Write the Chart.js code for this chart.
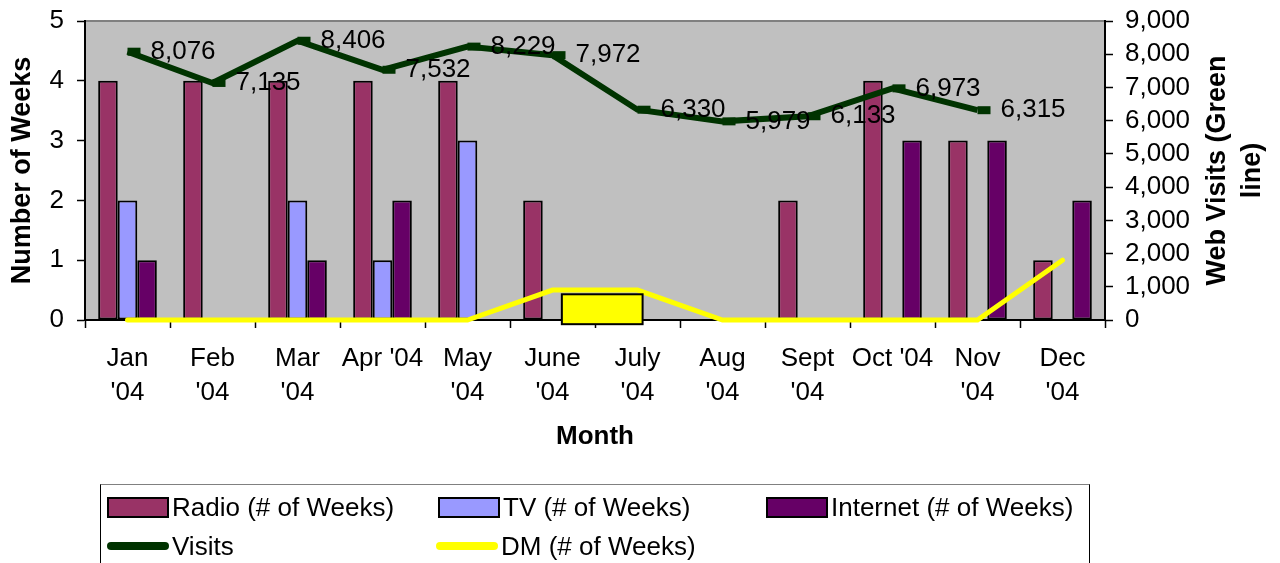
<!DOCTYPE html>
<html>
<head>
<meta charset="utf-8">
<script src="https://cdn.jsdelivr.net/npm/chart.js@4.4.1/dist/chart.umd.min.js"></script>
<style>
  body { margin: 0; background: #fff; overflow: hidden; }
  #wrap { position: relative; width: 1280px; height: 563px; }
  #legend {
    position: absolute; left: 100px; top: 484px; width: 988px; height: 100px;
    border: 1px solid #000; border-top-color: #808080;
    font: 26px "Liberation Sans", Arial, sans-serif; color: #000;
  }
  .item { position: absolute; height: 30px; line-height: 30px; display: flex; align-items: center; white-space: nowrap; }
  .box { width: 58px; height: 17px; border: 2px solid #000; margin-right: 3px; }
  .ln { width: 62px; height: 8px; border-radius: 4px; margin-right: 3px; }
</style>
</head>
<body>
<div id="wrap">
  <canvas id="myChart" width="1280" height="563"></canvas>
  <div id="legend"></div>
</div>
<script>
const months = [['Jan', "'04"], ['Feb', "'04"], ['Mar', "'04"], "Apr '04", ['May', "'04"], ['June', "'04"],
                ['July', "'04"], ['Aug', "'04"], ['Sept', "'04"], "Oct '04", ['Nov', "'04"], ['Dec', "'04"]];
const radio = [4, 4, 4, 4, 4, 2, 0, 0, 2, 4, 3, 1];
const tv = [2, 0, 2, 1, 3, 0, 0, 0, 0, 0, 0, 0];
const internet = [1, 0, 1, 2, 0, 0, 0, 0, 0, 3, 3, 2];
const visits = [8076, 7135, 8406, 7532, 8229, 7972, 6330, 5979, 6133, 6973, 6315, null];
const dm = [0, 0, 0, 0, 0, 1, 1, 0, 0, 0, 0, 2];

// yellow box drawn over June/July (category index, weeks)
const dmBox = { xMin: 5.11, xMax: 6.06, yMin: -0.07, yMax: 0.43 };

const fontFam = "'Liberation Sans', Arial, sans-serif";
Chart.defaults.font.family = fontFam;
Chart.defaults.color = '#000';

const plotBg = {
  id: 'plotBg',
  beforeDraw(chart) {
    const { ctx, chartArea: a } = chart;
    ctx.save();
    ctx.fillStyle = '#c0c0c0';
    ctx.fillRect(a.left, a.top, a.right - a.left, a.bottom - a.top);
    ctx.strokeStyle = '#808080';
    ctx.lineWidth = 2;
    ctx.strokeRect(a.left, a.top, a.right - a.left, a.bottom - a.top);
    ctx.restore();
  }
};

const extras = {
  id: 'extras',
  afterDatasetsDraw(chart) {
    const { ctx, chartArea: a, scales } = chart;
    ctx.save();
    // the box
    const x1 = scales.x.getPixelForValue(dmBox.xMin);
    const x2 = scales.x.getPixelForValue(dmBox.xMax);
    const y1 = scales.y.getPixelForValue(dmBox.yMax);
    const y2 = scales.y.getPixelForValue(dmBox.yMin);
    ctx.fillStyle = '#ffff00';
    ctx.fillRect(x1, y1, x2 - x1, y2 - y1);
    ctx.strokeStyle = '#000';
    ctx.lineWidth = 2;
    ctx.strokeRect(x1, y1, x2 - x1, y2 - y1);

    // visit labels
    const meta = chart.getDatasetMeta(0);
    ctx.fillStyle = '#000';
    ctx.font = '26px ' + fontFam;
    ctx.textAlign = 'left';
    ctx.textBaseline = 'middle';
    meta.data.forEach((pt, i) => {
      if (visits[i] == null) return;
      ctx.fillText(visits[i].toLocaleString('en-US'), pt.x + 23, pt.y);
    });

    // right axis title, reads bottom to top
    ctx.font = 'bold 27px ' + fontFam;
    ctx.textAlign = 'center';
    const cy = (a.top + a.bottom) / 2;
    ctx.translate(a.right + 113, cy);
    ctx.rotate(-Math.PI / 2);
    ctx.fillText('Web Visits (Green', 0, 0);
    ctx.fillText('line)', 0, 35);
    ctx.restore();
  }
};

const tickGrid = { drawOnChartArea: false, drawTicks: true, tickLength: 8, tickColor: '#000', tickWidth: 1.5 };

new Chart(document.getElementById('myChart'), {
  data: {
    labels: months,
    datasets: [
      {
        type: 'line', label: 'Visits', data: visits, yAxisID: 'y1', order: 0,
        borderColor: '#003300', borderWidth: 6, tension: 0,
        pointStyle: 'dash', pointRadius: 13, pointBorderWidth: 8,
        pointBorderColor: '#003300', pointBackgroundColor: '#003300', clip: false
      },
      {
        type: 'line', label: 'DM (# of Weeks)', data: dm, yAxisID: 'y2', order: 1,
        borderColor: '#ffff00', borderWidth: 5, tension: 0, pointRadius: 0,
        borderCapStyle: 'round', clip: false
      },
      {
        type: 'bar', label: 'Radio (# of Weeks)', data: radio, yAxisID: 'y', order: 2,
        backgroundColor: '#993366', borderColor: '#000', borderWidth: 2, borderSkipped: false
      },
      {
        type: 'bar', label: 'TV (# of Weeks)', data: tv, yAxisID: 'y', order: 2,
        backgroundColor: '#9999ff', borderColor: '#000', borderWidth: 2, borderSkipped: false
      },
      {
        type: 'bar', label: 'Internet (# of Weeks)', data: internet, yAxisID: 'y', order: 2,
        backgroundColor: '#660066', borderColor: '#000', borderWidth: 2, borderSkipped: false
      }
    ]
  },
  options: {
    responsive: false,
    animation: false,
    events: [],
    datasets: { bar: { categoryPercentage: 0.69, barPercentage: 1.0 } },
    layout: { padding: { top: 20, bottom: 113, left: 0, right: 0 } },
    plugins: { legend: { display: false }, tooltip: { enabled: false } },
    scales: {
      x: {
        offset: true,
        grid: Object.assign({ offset: true }, tickGrid),
        border: { color: '#000', width: 2 },
        ticks: { font: { size: 26, lineHeight: 1.3 }, padding: 14, maxRotation: 0, autoSkip: false },
        title: { display: true, text: 'Month', font: { size: 26, weight: 'bold', lineHeight: 1 }, padding: 0 },
        afterFit: s => { s.height = 130; s.paddingLeft = 0; s.paddingRight = 0; }
      },
      y: {
        position: 'left', min: 0, max: 5,
        grid: tickGrid,
        border: { color: '#000', width: 2 },
        ticks: { stepSize: 1, font: { size: 26 }, padding: 13, autoSkip: false },
        title: { display: true, text: 'Number of Weeks', font: { size: 27, weight: 'bold' }, padding: { top: 6, bottom: 0 } },
        afterFit: s => { s.width = 85; s.paddingTop = 0; s.paddingBottom = 0; }
      },
      y1: {
        position: 'right', min: 0, max: 9000,
        grid: tickGrid,
        border: { color: '#000', width: 2 },
        ticks: { stepSize: 1000, font: { size: 26 }, padding: 12, autoSkip: false, callback: v => v.toLocaleString('en-US') },
        afterFit: s => { s.width = 175; s.paddingTop = 0; s.paddingBottom = 0; }
      },
      y2: { display: false, min: 0, max: 10 }
    }
  },
  plugins: [plotBg, extras]
});

// legend
const legendItems = [
  { label: 'Radio (# of Weeks)', color: '#993366', kind: 'box', left: 6, top: 7 },
  { label: 'TV (# of Weeks)', color: '#9999ff', kind: 'box', left: 337, top: 7 },
  { label: 'Internet (# of Weeks)', color: '#660066', kind: 'box', left: 665, top: 7 },
  { label: 'Visits', color: '#003300', kind: 'ln', left: 6, top: 46 },
  { label: 'DM (# of Weeks)', color: '#ffff00', kind: 'ln', left: 335, top: 46 }
];
const legend = document.getElementById('legend');
legendItems.forEach(it => {
  const d = document.createElement('div');
  d.className = 'item';
  d.style.left = it.left + 'px';
  d.style.top = it.top + 'px';
  const sw = document.createElement('span');
  sw.className = it.kind;
  sw.style.background = it.color;
  d.appendChild(sw);
  d.appendChild(document.createTextNode(it.label));
  legend.appendChild(d);
});
</script>
</body>
</html>
